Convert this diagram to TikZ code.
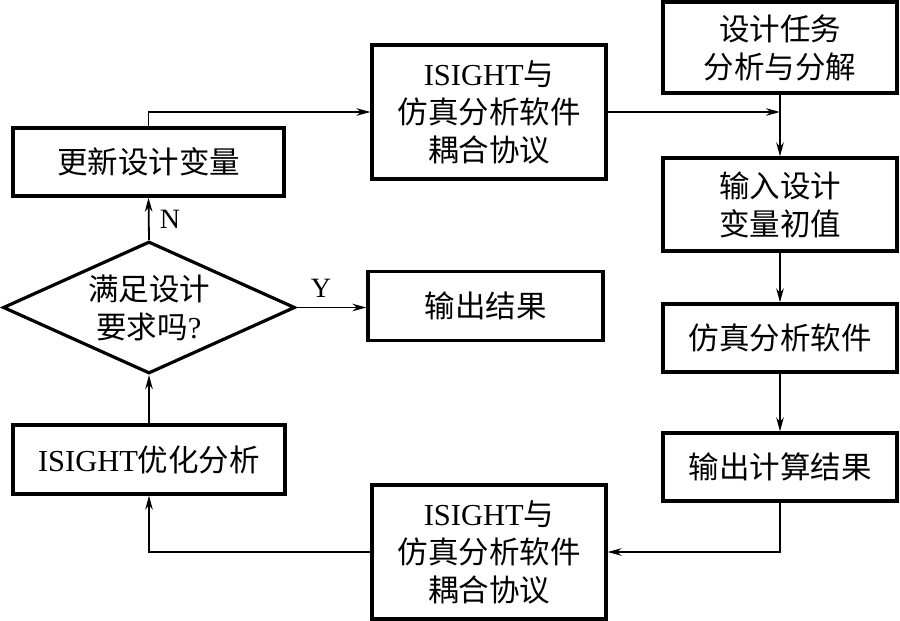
\documentclass[tikz,border=0pt]{standalone}
\usepackage{fontspec}
\setmainfont{Liberation Serif}
\newfontfamily\cjk{Noto Sans CJK SC}
\usetikzlibrary{arrows.meta,shapes.geometric}
\newcommand{\zh}[1]{{\cjk #1}}
\begin{document}
\begin{tikzpicture}[x=1pt,y=-1pt,
  box/.style={draw, line width=3.2pt, inner sep=0pt, align=center,
    font=\fontsize{30.5}{38}\selectfont},
  conn/.style={line width=1.8pt, -{Stealth[length=14pt,width=7.5pt,inset=4.5pt]}},
  lbl/.style={font=\fontsize{28}{30}\selectfont, inner sep=0pt}]
\useasboundingbox (0,0) rectangle (900,621);
\node[box, minimum width=271pt, minimum height=68pt] (upd) at (148.5,162) {\zh{更新设计变量}};
\node[box, minimum width=234pt, minimum height=134pt] (isA) at (489,112) {ISIGHT\zh{与}\\\zh{仿真分析软件}\\\zh{耦合协议}};
\node[box, minimum width=234pt, minimum height=91pt] (task) at (780,47.5) {\zh{设计任务}\\\zh{分析与分解}};
\node[box, minimum width=234pt, minimum height=93pt] (inp) at (780,204.5) {\zh{输入设计}\\\zh{变量初值}};
\node[box, minimum width=234pt, minimum height=68pt] (sim) at (780,338) {\zh{仿真分析软件}};
\node[box, minimum width=234pt, minimum height=68pt] (calc) at (780,467) {\zh{输出计算结果}};
\node[box, minimum width=234pt, minimum height=134pt] (isB) at (489,552) {ISIGHT\zh{与}\\\zh{仿真分析软件}\\\zh{耦合协议}};
\node[box, minimum width=272pt, minimum height=69pt] (opt) at (149,459.5) {ISIGHT\zh{优化分析}};
\node[box, minimum width=235pt, minimum height=69pt] (out) at (485.5,306) {\zh{输出结果}};
\node[box, shape=diamond, shape aspect=2.2, minimum width=292pt, minimum height=132pt] (dia) at (149,307.5) {\zh{满足设计}\\\zh{要求吗}?};
\draw[conn] (upd.north) |- (isA.west);
\coordinate (j) at (task.south |- isA.east);
\draw[conn] (isA.east) -- (j);
\draw[conn] (task.south) -- (inp.north);
\draw[conn] (inp.south) -- (sim.north);
\draw[conn] (sim.south) -- (calc.north);
\draw[conn] (calc.south) |- (isB.east);
\draw[conn] (isB.west) -| (opt.south);
\draw[conn] (opt.north) -- (dia.south);
\draw[conn] (dia.north) -- (upd.south);
\draw[conn] (dia.east) -- (dia.east -| out.west);
\node[lbl] (n) at (170,219) {N};
\node[lbl] (y) at (321,288) {Y};
\end{tikzpicture}
\end{document}
